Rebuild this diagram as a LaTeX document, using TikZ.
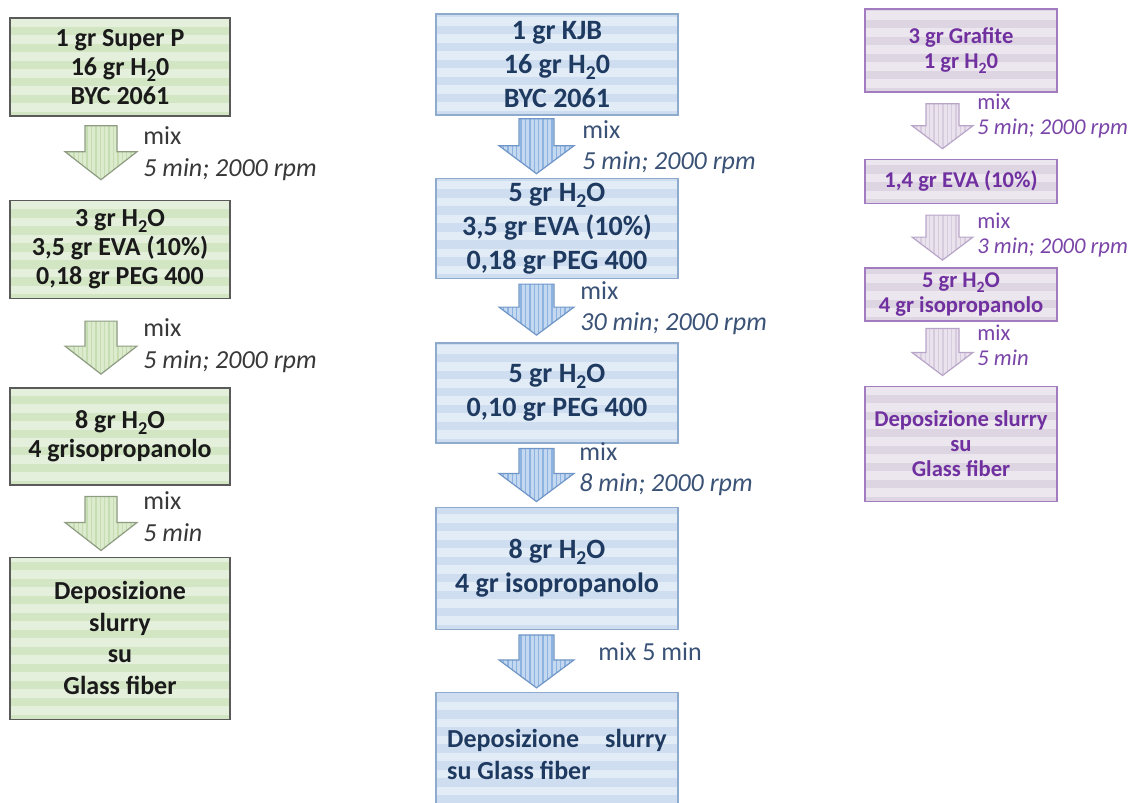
\documentclass[tikz,border=0pt]{standalone}
\usepackage{fontspec}
\setmainfont{Carlito}
\usepackage{tikz}
\usetikzlibrary{positioning,calc}

\newcommand{\low}[1]{\raisebox{-0.45ex}{\scalebox{0.7}{#1}}}

\definecolor{gfill}{HTML}{E4F0DB}
\definecolor{gband}{HTML}{D3E6C3}
\definecolor{gline}{HTML}{5A5A5A}
\definecolor{gtext}{HTML}{1A1A1A}
\definecolor{glabel}{HTML}{383838}
\definecolor{garfill}{HTML}{DCEBCD}
\definecolor{garband}{HTML}{C6DDB1}
\definecolor{garline}{HTML}{8E9C82}

\definecolor{bfill}{HTML}{E2ECF7}
\definecolor{bband}{HTML}{CEDEF0}
\definecolor{bline}{HTML}{8EAACC}
\definecolor{btext}{HTML}{1F3A60}
\definecolor{blabel}{HTML}{3A5276}
\definecolor{barfill}{HTML}{C4D8EF}
\definecolor{barband}{HTML}{8DB3E2}
\definecolor{barline}{HTML}{6F96C6}

\definecolor{pfill}{HTML}{ECE7EE}
\definecolor{pband}{HTML}{DDD5E2}
\definecolor{pline}{HTML}{A27BC0}
\definecolor{ptext}{HTML}{7030A0}
\definecolor{plabel}{HTML}{7A45A8}
\definecolor{parfill}{HTML}{EAE3EE}
\definecolor{parband}{HTML}{D6CCDE}
\definecolor{parline}{HTML}{B8A5C8}

\begin{document}
\begin{tikzpicture}[x=0.5pt, y=-0.5pt,
        stripes/.style={path picture={\foreach \k in {0,...,26}
            \draw[#1, line width=4.2pt] ([yshift={\k*8.5pt}]path picture bounding box.south west) -- ([yshift={\k*8.5pt}]path picture bounding box.south east);}},
        vstripes/.style={path picture={\foreach \k in {0,...,40}
            \draw[#1, line width=0.7pt] ([xshift={\k*2.2pt}]path picture bounding box.south west) -- ([xshift={\k*2.2pt}]path picture bounding box.north west);}},
        box/.style={draw, rectangle, align=center, inner sep=2pt, line width=0.7pt},
        gbox/.style={box, draw=gline, fill=gfill, stripes=gband, text=gtext, minimum width=110pt, font=\fontsize{13}{14.5}\selectfont\bfseries},
        bbox/.style={box, draw=bline, fill=bfill, stripes=bband, text=btext, minimum width=121pt, font=\fontsize{14}{17}\selectfont\bfseries},
        pbox/.style={box, draw=pline, fill=pfill, stripes=pband, text=ptext, minimum width=96pt, inner sep=1pt, font=\fontsize{11.3}{12.5}\selectfont\bfseries},
        fat/.style 2 args={to path={let \p1=($(\tikztostart.south)+(\adx,#1)$), \p2=($(\tikztotarget.north)+(\adx,-#2)$) in
            (\x1-\asw,\y1) -- (\x1-\asw,\y2+\ahl) -- (\x1-\ahw,\y2+\ahl) -- (\x2,\y2) -- (\x1+\ahw,\y2+\ahl) -- (\x1+\asw,\y2+\ahl) -- (\x1+\asw,\y1) -- cycle}},
        gdim/.code={\def\adx{-19}\def\asw{8pt}\def\ahw{18pt}\def\ahl{14pt}},
        bdim/.code={\def\adx{-20.5}\def\asw{8.75pt}\def\ahw{18.75pt}\def\ahl{14pt}},
        pdim/.code={\def\adx{-18.5}\def\asw{8.25pt}\def\ahw{15.25pt}\def\ahl{11.5pt}},
        garr/.style 2 args={gdim, fat={#1}{#2}, draw=garline, fill=garfill, vstripes=garband, line width=0.6pt},
        barr/.style 2 args={bdim, fat={#1}{#2}, draw=barline, fill=barfill, vstripes=barband, line width=0.6pt},
        parr/.style 2 args={pdim, fat={#1}{#2}, draw=parline, fill=parfill, vstripes=parband, line width=0.6pt},
        lbl/.style={anchor=west, align=left, inner sep=0pt},
        glbl/.style={lbl, text=glabel, font=\fontsize{13}{16}\selectfont},
        blbl/.style={lbl, text=blabel, font=\fontsize{13}{15.5}\selectfont},
        plbl/.style={lbl, text=plabel, font=\fontsize{11.3}{12.5}\selectfont}
    ]
        \useasboundingbox (0,0) rectangle (1136,803);
        \clip (0,0) rectangle (1136,803);

        % Super P
        \node [gbox, minimum height=49pt] (g1) at (120,67) {1 gr Super P\\16 gr H\low{2}0\\BYC 2061};
        \node [gbox, minimum height=49pt, below=41.5pt of g1] (g2) {3 gr H\low{2}O\\3,5 gr EVA (10\%)\\0,18 gr PEG 400};
        \node [gbox, minimum height=48.5pt, below=44pt of g2] (g3) {8 gr H\low{2}O\\4 grisopropanolo};
        \node [gbox, minimum height=81pt, below=35.5pt of g3, font=\fontsize{13}{15.75}\selectfont\bfseries] (g4) {Deposizione\\slurry\\su\\Glass fiber};

        \draw [garr={9}{20}] (g1) to (g2);
        \draw [garr={22}{13}] (g2) to (g3);
        \draw [garr={11}{6}] (g3) to (g4);

        \node [glbl] (gmix1) at (143,154) {mix\\\textit{5 min; 2000 rpm}};
        \node [glbl] (gmix2) at (143,346) {mix\\\textit{5 min; 2000 rpm}};
        \node [glbl] (gmix3) at (143,516.5) {mix\\\textit{5 min}};

        % KJB
        \node [bbox, minimum height=50.5pt] (b1) at (557,64.5) {1 gr KJB\\16 gr H\low{2}0\\BYC 2061};
        \node [bbox, minimum height=50pt, below=31pt of b1] (b2) {5 gr H\low{2}O\\3,5 gr EVA (10\%)\\0,18 gr PEG 400};
        \node [bbox, minimum height=50pt, below=31.5pt of b2] (b3) {5 gr H\low{2}O\\0,10 gr PEG 400};
        \node [bbox, minimum height=61pt, below=31.5pt of b3] (b4) {8 gr H\low{2}O\\4 gr isopropanolo};
        \node [bbox, minimum height=62pt, below=31pt of b4, align=left, font=\fontsize{13}{16}\selectfont\bfseries] (b5) {Deposizione\quad slurry\\su Glass fiber};

        \draw [barr={3}{4}] (b1) to (b2);
        \draw [barr={5}{7}] (b2) to (b3);
        \draw [barr={5}{5}] (b3) to (b4);
        \draw [barr={5}{4}] (b4) to (b5);

        \node [blbl] (bmix1) at (582,147.5) {mix\\\textit{5 min; 2000 rpm}};
        \node [blbl] (bmix2) at (580,308) {mix\\\textit{30 min; 2000 rpm}};
        \node [blbl] (bmix3) at (579,469) {mix\\\textit{8 min; 2000 rpm}};
        \node [blbl] (bmix4) at (598,652) {mix 5 min};

        % Grafite
        \node [pbox, minimum height=41.5pt] (p1) at (961,50.5) {3 gr Grafite\\1 gr H\low{2}0};
        \node [pbox, minimum height=22pt, below=33pt of p1] (p2) {1,4 gr EVA (10\%)};
        \node [pbox, minimum height=26.5pt, below=31.5pt of p2] (p3) {5 gr H\low{2}O\\4 gr isopropanolo};
        \node [pbox, minimum height=57.5pt, below=32pt of p3] (p4) {Deposizione slurry\\su\\Glass fiber};

        \draw [parr={11}{10}] (p1) to (p2);
        \draw [parr={11}{7}] (p2) to (p3);
        \draw [parr={7}{10}] (p3) to (p4);

        \node [plbl] (pmix1) at (977,116) {mix\\\textit{5 min; 2000 rpm}};
        \node [plbl] (pmix2) at (977,235) {mix\\\textit{3 min; 2000 rpm}};
        \node [plbl] (pmix3) at (977,345) {mix\\\textit{5 min}};
    \end{tikzpicture}
\end{document}
